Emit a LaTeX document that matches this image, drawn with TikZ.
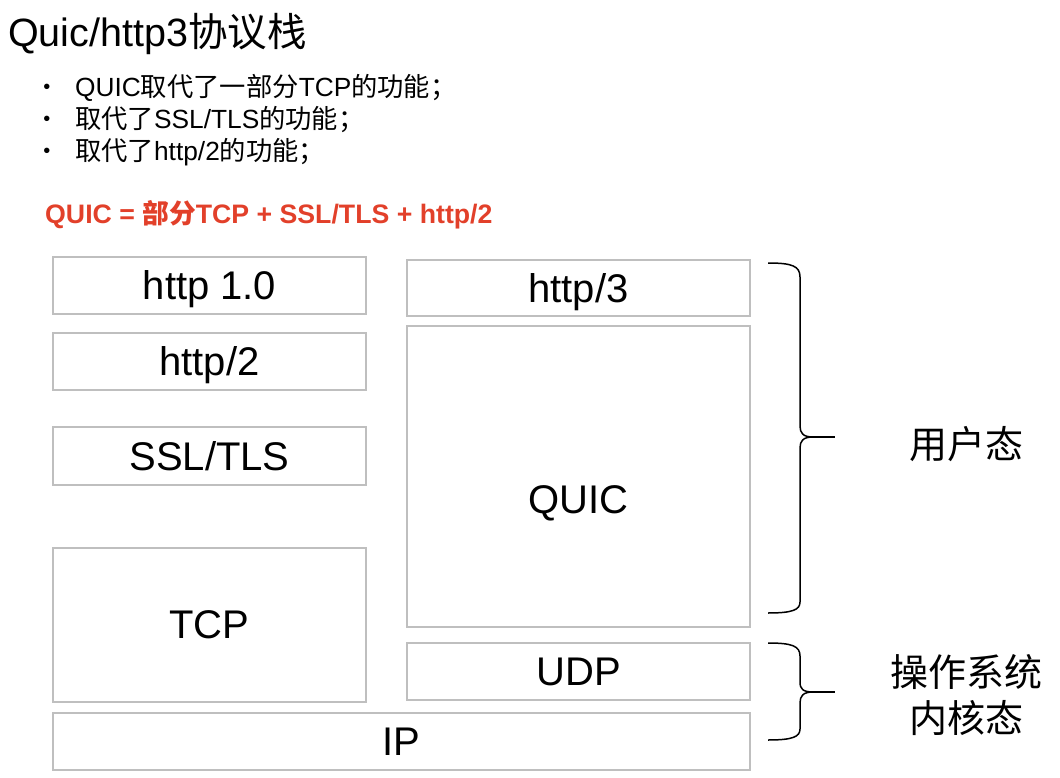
\documentclass[tikz,border=0pt]{standalone}
\usepackage{fontspec}
\setmainfont{Liberation Sans}
\newfontfamily\cjk{Noto Sans CJK SC}
\usepackage{tikz}
\definecolor{quicred}{RGB}{226,64,42}

\begin{document}
\begin{tikzpicture}[
            x=1pt, y=-1pt,
            layer/.style={rectangle, draw=black!25, line width=1.2pt, fill=white, inner sep=0pt, text depth=0pt, font=\fontsize{40}{40}\selectfont}, % one protocol box
            sidelabel/.style={align=center, font=\fontsize{38}{46}\selectfont\cjk}, % text right of a brace
            curly/.style={line width=1.5pt, black} % brace lines
            ]
        \useasboundingbox (0,0) rectangle (1060,778);

            % heading and notes
            \node[anchor=base west, inner sep=0pt, font=\fontsize{39.5}{39.5}\selectfont] (title) at (8,47) {Quic/http3{\cjk 协议栈}};
            \node[inner sep=0pt, font=\fontsize{20}{20}\selectfont] (dot1) at (47,89) {•};
            \node[inner sep=0pt, font=\fontsize{20}{20}\selectfont] (dot2) at (47,121) {•};
            \node[inner sep=0pt, font=\fontsize{20}{20}\selectfont] (dot3) at (47,153) {•};
            \node[anchor=base west, inner sep=0pt, font=\fontsize{26.3}{26.3}\selectfont] (note1) at (75,97) {QUIC{\cjk 取代了一部分}TCP{\cjk 的功能；}};
            \node[anchor=base west, inner sep=0pt, font=\fontsize{26.3}{26.3}\selectfont] (note2) at (75,129) {{\cjk 取代了}SSL/TLS{\cjk 的功能；}};
            \node[anchor=base west, inner sep=0pt, font=\fontsize{26.3}{26.3}\selectfont] (note3) at (75,161) {{\cjk 取代了}http/2{\cjk 的功能；}};
            \node[anchor=base west, inner sep=0pt, text=quicred, font=\fontsize{26.7}{26.7}\selectfont\bfseries] (formula) at (45,224) {QUIC = {\cjk 部分}TCP + SSL/TLS + http/2};

            % left stack
            \node[layer, minimum width=313pt, minimum height=57pt] (http1) at (209.5,285.5) {http 1.0};
            \node[layer, minimum width=313pt, minimum height=57pt] (http2) at (209.5,361.5) {http/2};
            \node[layer, minimum width=313pt, minimum height=58pt] (ssl) at (209.5,456) {SSL/TLS};
            \node[layer, minimum width=313pt, minimum height=154pt] (tcp) at (209.5,625) {TCP};

            % right stack
            \node[layer, minimum width=343pt, minimum height=56pt] (http3) at (578.5,288) {http/3};
            \node[layer, minimum width=343pt, minimum height=301pt, label={[font=\fontsize{40}{40}\selectfont, text depth=0pt, yshift=-23pt]center:QUIC}] (quic) at (578.5,476.5) {};
            \node[layer, minimum width=343pt, minimum height=57pt] (udp) at (578.5,671.5) {UDP};
            \node[layer, minimum width=697pt, minimum height=57pt] (ip) at (401.5,741.5) {IP};

            % braces
            \draw[curly] (768,263) .. controls (792,263) and (800,266) .. (800,277) -- (800,426)
                .. controls (800,433) and (803,437) .. (813,437)
                .. controls (803,437) and (800,441) .. (800,448) -- (800,602)
                .. controls (800,610) and (792,613) .. (768,613);
            \draw[curly] (813,437) -- (835,437);
            \draw[curly] (768,643) .. controls (792,643) and (800,646) .. (800,656) -- (800,682)
                .. controls (800,689) and (803,692) .. (813,692)
                .. controls (803,692) and (800,696) .. (800,703) -- (800,729)
                .. controls (800,737) and (792,740) .. (768,740);
            \draw[curly] (813,692) -- (835,692);

            \node[sidelabel] (user) at (966.5,444) {用户态};
            \node[sidelabel] (kernel) at (966.5,695) {操作系统\\内核态};

            \end{tikzpicture}
\end{document}
